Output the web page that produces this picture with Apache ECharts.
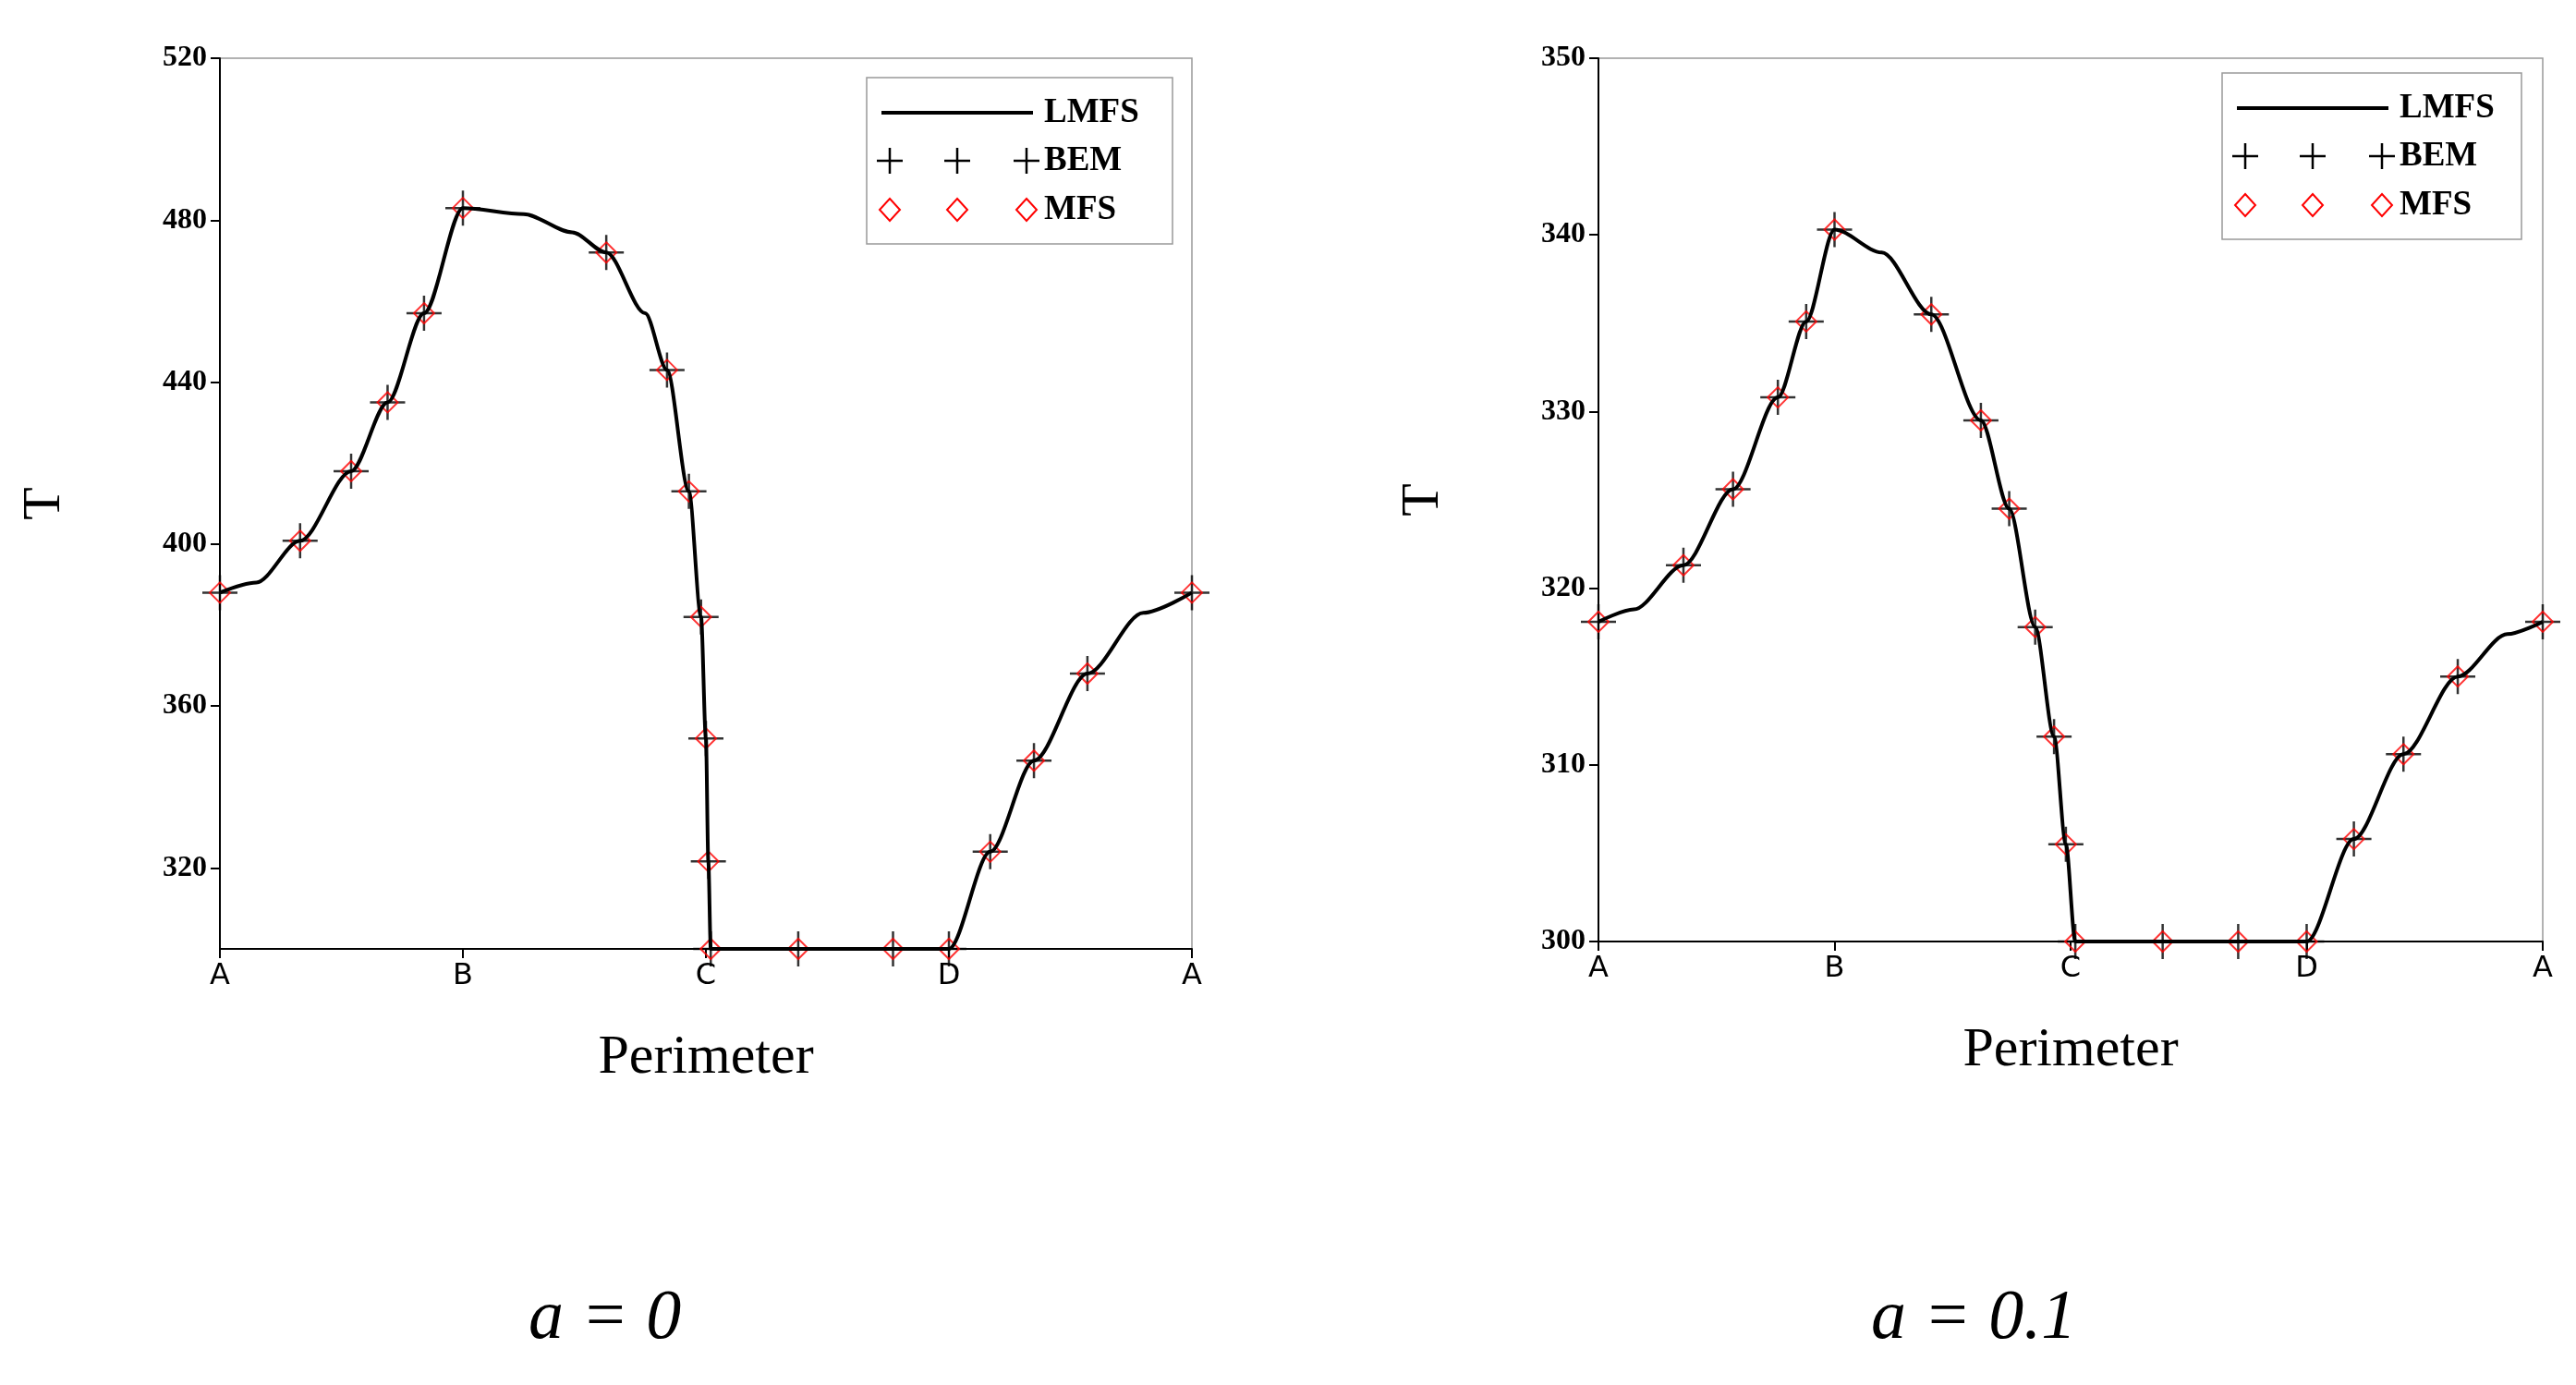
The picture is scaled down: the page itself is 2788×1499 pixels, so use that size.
<!DOCTYPE html>
<html><head><meta charset="utf-8">
<script src="https://cdn.jsdelivr.net/npm/echarts@6/dist/echarts.min.js"></script>
<style>html,body{margin:0;background:#fff}#main{width:2788px;height:1499px}</style>
</head><body><div id="main"></div>
<script>
var xLabels = ['A', 'B', 'C', 'D', 'A'];
var legendNames = ['LMFS', 'BEM', 'MFS'];

// a = 0
var leftPts = [[0,388],[0.33,400.8],[0.54,418],[0.69,435],[0.84,457],[1.0,483],[1.59,472],[1.84,443],[1.93,413],[1.98,382],[2.0,352],[2.01,321.6],[2.02,300],[2.38,300],[2.77,300],[3.0,300],[3.17,324],[3.35,346.5],[3.57,368],[4.0,388]];
var leftLine = [[0,388],[0.15,390.5],[0.33,400.8],[0.54,418],[0.69,435],[0.84,457],[1.0,483],[1.25,481.5],[1.45,477],[1.59,472],[1.75,457],[1.84,443],[1.93,413],[1.98,382],[2.0,352],[2.01,321.6],[2.02,300],[2.38,300],[2.77,300],[3.0,300],[3.17,324],[3.35,346.5],[3.57,368],[3.8,383],[4.0,388]];
// a = 0.1
var rightPts = [[0,318.1],[0.36,321.3],[0.57,325.6],[0.76,330.8],[0.88,335.1],[1.0,340.3],[1.41,335.5],[1.62,329.5],[1.74,324.5],[1.85,317.8],[1.93,311.6],[1.98,305.5],[2.02,300],[2.39,300],[2.71,300],[3.0,300],[3.2,305.8],[3.41,310.6],[3.64,315.0],[4.0,318.1]];
var rightLine = [[0,318.1],[0.15,318.8],[0.36,321.3],[0.57,325.6],[0.76,330.8],[0.88,335.1],[1.0,340.3],[1.2,339],[1.41,335.5],[1.62,329.5],[1.74,324.5],[1.85,317.8],[1.93,311.6],[1.98,305.5],[2.02,300],[2.39,300],[2.71,300],[3.0,300],[3.2,305.8],[3.41,310.6],[3.64,315.0],[3.85,317.4],[4.0,318.1]];

var leftTicks = [320, 360, 400, 440, 480, 520];
var rightTicks = [300, 310, 320, 330, 340, 350];

var chart = echarts.init(document.getElementById('main'));
var plusPath = 'path://M0,5L10,5M5,0L5,10';

function xAxis(idx) {
    return {
        gridIndex: idx, type: 'value', min: 0, max: 4,
        name: 'Perimeter', nameLocation: 'middle', nameGap: 88,
        nameTextStyle: { fontFamily: 'Liberation Serif', fontSize: 60, color: '#000' },
        axisLine: { lineStyle: { color: '#000', width: 2 } },
        axisTick: { customValues: [0, 1, 2, 3, 4], length: 10, lineStyle: { color: '#000', width: 2 } },
        axisLabel: { customValues: [0, 1, 2, 3, 4], formatter: function (v) { return xLabels[Math.round(v)]; },
            fontFamily: 'DejaVu Sans', fontSize: 32, color: '#000', margin: 14 },
        splitLine: { show: false }
    };
}
function yAxis(idx, min, max, ticks) {
    return {
        gridIndex: idx, type: 'value', min: min, max: max,
        name: 'T', nameLocation: 'middle', nameGap: 160, nameRotate: 90,
        nameTextStyle: { fontFamily: 'Liberation Serif', fontSize: 58, color: '#000' },
        axisLine: { show: true, lineStyle: { color: '#000', width: 2 } },
        axisTick: { show: true, customValues: ticks, length: 10, lineStyle: { color: '#000', width: 2 } },
        axisLabel: { customValues: ticks, fontFamily: 'Liberation Serif', fontWeight: 'bold', fontSize: 32, color: '#000', margin: 14 },
        splitLine: { show: false }
    };
}
function series(idx, line, pts) {
    return [
        { name: 'LMFS', type: 'line', xAxisIndex: idx, yAxisIndex: idx, data: line, smooth: 0.3, smoothMonotone: 'x',
          showSymbol: false, lineStyle: { color: '#000', width: 4 } },
        { name: 'BEM', type: 'scatter', xAxisIndex: idx, yAxisIndex: idx, data: pts, symbol: plusPath, symbolSize: 38,
          itemStyle: { color: 'none', borderColor: '#000', borderWidth: 2.5 } },
        { name: 'MFS', type: 'scatter', xAxisIndex: idx, yAxisIndex: idx, data: pts, symbol: 'diamond', symbolSize: 22,
          itemStyle: { color: 'none', borderColor: '#f00', borderWidth: 2 } }
    ];
}
// hand-drawn legend box: line sample for LMFS, three markers for the point series
function legendBox(x, y, w, h) {
    var els = [{ type: 'rect', shape: { x: x, y: y, width: w, height: h }, style: { fill: '#fff', stroke: '#999', lineWidth: 1.5 } }];
    var rows = [y + 38, y + 90, y + 143];
    var cols = [x + 25, x + 98, x + 173];
    els.push({ type: 'line', shape: { x1: x + 16, y1: rows[0], x2: x + 180, y2: rows[0] }, style: { stroke: '#000', lineWidth: 4 } });
    cols.forEach(function (cx) {
        els.push({ type: 'polyline', shape: { points: [[cx - 14, rows[1]], [cx + 14, rows[1]]] }, style: { stroke: '#000', lineWidth: 2.5 } });
        els.push({ type: 'polyline', shape: { points: [[cx, rows[1] - 14], [cx, rows[1] + 14]] }, style: { stroke: '#000', lineWidth: 2.5 } });
        els.push({ type: 'polygon', shape: { points: [[cx, rows[2] - 12], [cx + 11, rows[2]], [cx, rows[2] + 12], [cx - 11, rows[2]]] }, style: { fill: 'none', stroke: '#f00', lineWidth: 2 } });
    });
    legendNames.forEach(function (n, i) {
        els.push({ type: 'text', x: x + 192, y: rows[i], style: { text: n, fontFamily: 'Liberation Serif', fontWeight: 'bold', fontSize: 37, fill: '#000', verticalAlign: 'middle' } });
    });
    return els;
}

chart.setOption({
    backgroundColor: '#fff',
    animation: false,
    grid: [
        { left: 238, top: 63, width: 1052, height: 964, show: true, borderColor: '#999', borderWidth: 1.5 },
        { left: 1730, top: 63, width: 1022, height: 956, show: true, borderColor: '#999', borderWidth: 1.5 }
    ],
    xAxis: [xAxis(0), xAxis(1)],
    yAxis: [yAxis(0, 300, 520, leftTicks), yAxis(1, 300, 350, rightTicks)],
    series: series(0, leftLine, leftPts).concat(series(1, rightLine, rightPts)),
    graphic: legendBox(938, 84, 331, 180).concat(legendBox(2405, 79, 324, 180)).concat([
        { type: 'text', left: 572, top: 1390, style: { text: 'a = 0', fontFamily: 'Liberation Serif', fontStyle: 'italic', fontSize: 76, fill: '#000' } },
        { type: 'text', left: 2025, top: 1390, style: { text: 'a = 0.1', fontFamily: 'Liberation Serif', fontStyle: 'italic', fontSize: 76, fill: '#000' } }
    ])
});
</script>
</body></html>
